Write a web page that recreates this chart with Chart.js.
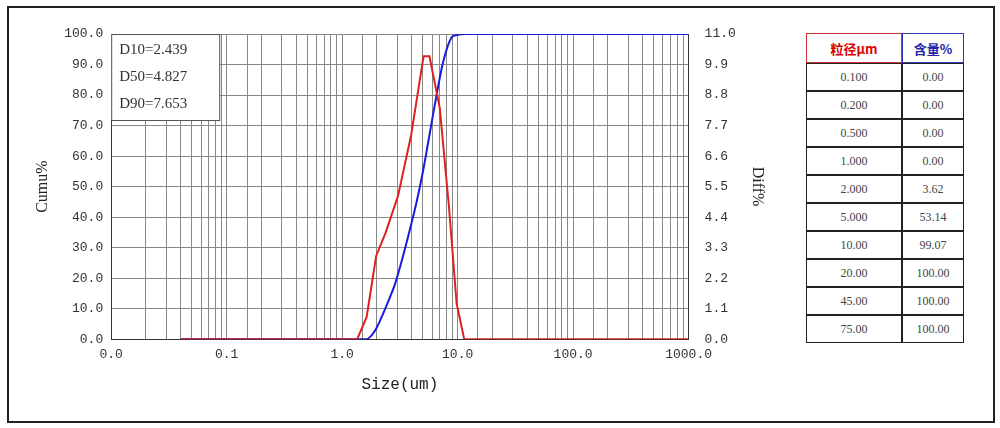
<!DOCTYPE html>
<html>
<head>
<meta charset="utf-8">
<script src="https://cdn.jsdelivr.net/npm/chart.js@4.4.1/dist/chart.umd.min.js"></script>
<style>
  body { margin: 0; background: #fff; }
  #frame { position: absolute; left: 7px; top: 6px; width: 984px; height: 413px; border: 2px solid #222; }
  #wrap { position: absolute; left: 0; top: 0; width: 800px; height: 428px; }
  table { position: absolute; left: 806px; top: 33px; border-collapse: separate; border-spacing: 0;
          font-family: "Liberation Serif", serif; font-size: 12px; color: #444; }
  td { border: 1px solid #222; width: 94px; height: 26px; text-align: center; padding: 0; }
  td.v { width: 60px; }
  th { height: 26px; font-family: "Noto Sans CJK SC"; font-size: 13px; }
  th.a { color: #d00; border: 1.5px solid #c33; }
  th.b { color: #22a; border: 1.5px solid #33b; }
</style>
</head>
<body>
<div id="frame"></div>
<div id="wrap"><canvas id="c" width="800" height="428"></canvas></div>
<table id="tbl"></table>
<script>
// 累積分布 (左軸)
const cumSize = [0.04, 1.63, 1.97, 2.88, 4.2, 5.07, 6.12, 7.4, 8.9, 11.4, 1000];
const cumVal  = [0, 0, 3.4, 18.3, 41.5, 56, 73.5, 90, 99, 100, 100];
// 頻度分布 (右軸)
const diffSize = [0.04, 1.35, 1.63, 1.97, 2.38, 3.05, 3.96, 5.07, 5.7, 7.0, 8.4, 9.8, 11.4, 1000];
const diffVal  = [0, 0, 0.8, 3.0, 3.84, 5.17, 7.36, 10.2, 10.2, 8.34, 4.8, 1.29, 0, 0];
const dLabels = ['D10=2.439', 'D50=4.827', 'D90=7.653'];
const tblSize = ['0.100', '0.200', '0.500', '1.000', '2.000', '5.000', '10.00', '20.00', '45.00', '75.00'];
const tblVal  = ['0.00', '0.00', '0.00', '0.00', '3.62', '53.14', '99.07', '100.00', '100.00', '100.00'];

// 表の作成
let html = '<tr><th class="a">粒径μm</th><th class="b">含量%</th></tr>';
tblSize.forEach((s, i) => { html += `<tr><td>${s}</td><td class="v">${tblVal[i]}</td></tr>`; });
document.getElementById('tbl').innerHTML = html;

const tickFont = { family: 'Liberation Mono', size: 13 };

// D値ボックス
const dBox = {
    id: 'dBox',
    afterDatasetsDraw(chart) {
        const { ctx, chartArea } = chart;
        ctx.save();
        ctx.fillStyle = '#fff';
        ctx.strokeStyle = '#555';
        ctx.fillRect(chartArea.left, chartArea.top, 108, 86);
        ctx.strokeRect(chartArea.left + 0.5, chartArea.top + 0.5, 108, 86);
        ctx.fillStyle = '#333';
        ctx.font = '15px "Liberation Serif"';
        dLabels.forEach((t, i) => ctx.fillText(t, chartArea.left + 8, chartArea.top + 20 + i * 27));
        ctx.restore();
    }
};

new Chart(document.getElementById('c'), {
    type: 'line',
    data: {
        datasets: [
            { data: diffSize.map((x, i) => ({ x, y: diffVal[i] })), yAxisID: 'y1',
              borderColor: '#e02020', borderWidth: 2, pointRadius: 0, tension: 0 },
            { data: cumSize.map((x, i) => ({ x, y: cumVal[i] })), yAxisID: 'y',
              borderColor: '#1a1ae0', borderWidth: 2, pointRadius: 0, tension: 0.2 }
        ]
    },
    options: {
        responsive: false, animation: false,
        layout: { padding: { left: 29, right: 29, top: 34, bottom: 30 } },
        plugins: { legend: { display: false }, tooltip: { enabled: false } },
        scales: {
            x: {
                type: 'logarithmic', min: 0.01, max: 1000,
                grid: { color: '#888', drawTicks: false },
                border: { color: '#333' },
                ticks: { font: tickFont, color: '#333', autoSkip: false, maxRotation: 0, padding: 8,
                         callback: v => [0.01, 0.1, 1, 10, 100, 1000].some(d => Math.abs(v - d) < d * 1e-6) ? v.toFixed(1) : '' },
                title: { display: true, text: 'Size(um)', font: { family: 'Liberation Mono', size: 16 }, color: '#222' }
            },
            y: {
                min: 0, max: 100,
                grid: { color: '#888', drawTicks: false },
                border: { color: '#333' },
                ticks: { stepSize: 10, font: tickFont, color: '#333', padding: 8, callback: v => v.toFixed(1) },
                title: { display: true, text: 'Cumu%', font: { family: 'Liberation Serif', size: 16 }, color: '#222' }
            },
            y1: {
                position: 'right', min: 0, max: 11,
                grid: { display: false },
                border: { color: '#333' },
                ticks: { stepSize: 1.1, font: tickFont, color: '#333', padding: 8, callback: v => v.toFixed(1) },
                title: { display: true, text: 'Diff%', font: { family: 'Liberation Serif', size: 16 }, color: '#222' }
            }
        }
    },
    plugins: [dBox]
});
</script>
</body>
</html>
